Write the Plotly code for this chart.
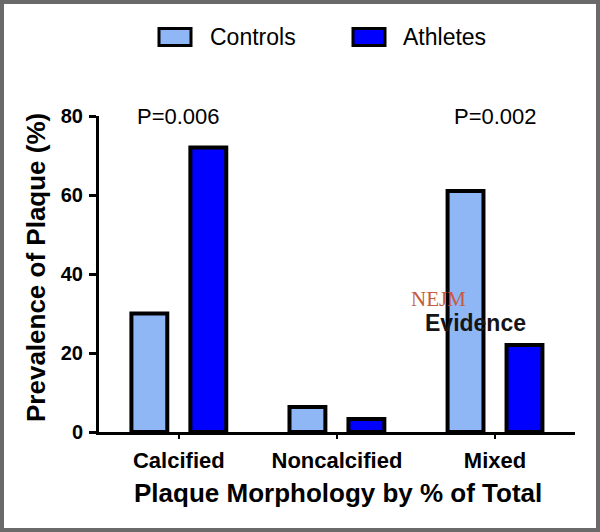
import plotly.graph_objects as go

categories = ["Calcified", "Noncalcified", "Mixed"]
controls = [30, 6.3, 61]
athletes = [72, 3.3, 22]
series_names = ["Controls", "Athletes"]
p_labels = ["P=0.006", "", "P=0.002"]
y_ticks = [0, 20, 40, 60, 80]

W, H = 600, 532
L, R, T, B = 99, 25, 116, 100
FONT = "Liberation Sans, Arial, sans-serif"
C_CTRL = "#8fb7f6"
C_ATH = "#0000ff"


def px(x):
    return (x - L) / (W - L - R)


def py(y):
    return (H - B - y) / (H - T - B)


fig = go.Figure()
fig.add_trace(go.Bar(x=categories, y=controls, name=series_names[0],
                     marker=dict(color=C_CTRL, line=dict(color="black", width=4)),
                     width=0.227, offset=-0.300, showlegend=False))
fig.add_trace(go.Bar(x=categories, y=athletes, name=series_names[1],
                     marker=dict(color=C_ATH, line=dict(color="black", width=4)),
                     width=0.227, offset=0.073, showlegend=False))

shapes = []
annotations = []

# frame
shapes.append(dict(type="rect", xref="paper", yref="paper",
                   x0=px(2), x1=px(598), y0=py(530), y1=py(2),
                   line=dict(color="#6a6a6a", width=4), fillcolor="rgba(0,0,0,0)", layer="above"))

# legend
for (x0, x1, tx, col, name) in [(159, 191, 208, C_CTRL, series_names[0]),
                                (353, 385, 401, C_ATH, series_names[1])]:
    shapes.append(dict(type="rect", xref="paper", yref="paper",
                       x0=px(x0), x1=px(x1), y0=py(45.5), y1=py(28.5),
                       line=dict(color="black", width=3), fillcolor=col))
    annotations.append(dict(xref="paper", yref="paper", x=px(tx), y=py(37),
                            xanchor="left", yanchor="middle", showarrow=False,
                            text=name, font=dict(family=FONT, size=23, color="black")))

# p-values
for cat, lab in zip(categories, p_labels):
    if lab:
        annotations.append(dict(x=cat, xref="x", yref="paper", y=py(116),
                                xanchor="center", yanchor="middle", showarrow=False,
                                text=lab, font=dict(family=FONT, size=22, color="black")))

# axis titles
annotations.append(dict(xref="paper", yref="paper", x=px(36), y=py(268),
                        textangle=-90, xanchor="center", yanchor="middle", showarrow=False,
                        text="<b>Prevalence of Plaque (%)</b>",
                        font=dict(family=FONT, size=26, color="black")))
annotations.append(dict(xref="paper", yref="paper", x=px(337.5), y=py(493),
                        xanchor="center", yanchor="middle", showarrow=False,
                        text="<b>Plaque Morphology by % of Total</b>",
                        font=dict(family=FONT, size=26, color="black")))

# watermark
annotations.append(dict(xref="paper", yref="paper", x=px(438), y=py(299),
                        xanchor="center", yanchor="middle", showarrow=False,
                        text="NEJM", font=dict(family="Liberation Serif, serif", size=21, color="#c65a3e")))
annotations.append(dict(xref="paper", yref="paper", x=px(475), y=py(323),
                        xanchor="center", yanchor="middle", showarrow=False,
                        text="<b>Evidence</b>", font=dict(family=FONT, size=23, color="#151515")))

fig.update_layout(
    width=W, height=H,
    margin=dict(l=L, r=R, t=T, b=B),
    paper_bgcolor="white", plot_bgcolor="white",
    showlegend=False,
    shapes=shapes, annotations=annotations,
    font=dict(family=FONT, color="black"),
    xaxis=dict(type="category", range=[-0.505, 2.506], showline=True, linecolor="black",
               linewidth=3, ticks="outside", ticklen=4, tickwidth=2, tickcolor="black",
               showgrid=False, zeroline=False, ticklabelstandoff=3,
               tickfont=dict(family=FONT, size=22, color="black"),
               tickvals=categories, ticktext=["<b>%s</b>" % c for c in categories]),
    yaxis=dict(range=[0, 80], showline=True, linecolor="black", linewidth=3,
               ticks="outside", ticklen=7, tickwidth=3, tickcolor="black",
               showgrid=False, zeroline=False, tickvals=y_ticks, ticklabelstandoff=2,
               ticktext=["<b>%d</b>" % v for v in y_ticks],
               tickfont=dict(family=FONT, size=20, color="black")),
)

fig.write_html("out.html", config={"displayModeBar": False},
               post_script="document.body.style.margin='0';document.body.style.overflow='hidden';")
